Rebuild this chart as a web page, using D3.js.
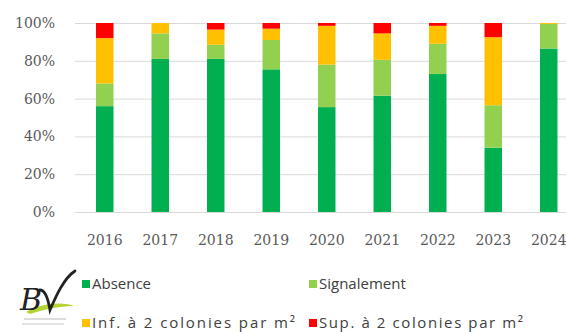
<!DOCTYPE html>
<html>
<head>
<meta charset="utf-8">
<script src="https://cdn.jsdelivr.net/npm/d3@7/dist/d3.min.js"></script>
<style>
  html, body { margin: 0; padding: 0; background: #fff; }
  svg { display: block; }
</style>
</head>
<body>
<svg id="chart" width="566" height="332"></svg>
<script>
// Share of monitored sites per infestation class, by year (percent)
const years = ["2016", "2017", "2018", "2019", "2020", "2021", "2022", "2023", "2024"];
const absence     = [56, 81, 81, 75.5, 55.5, 61.5, 73, 34, 86.5];
const signalement = [12, 13.5, 7.5, 15.5, 22.5, 19, 16, 22.5, 13];
const infDeux     = [24, 5.5, 8, 6, 20.5, 14, 9.5, 36, 0.5];
const supDeux     = [8, 0, 3.5, 3, 1.5, 5.5, 1.5, 7.5, 0];

const seriesNames = ["Absence", "Signalement", "Inf. à 2 colonies par m²", "Sup. à 2 colonies par m²"];
const seriesColors = ["#00B050", "#92D050", "#FFC000", "#FF0000"];
const yTicks = [0, 20, 40, 60, 80, 100];

const rows = years.map((y, i) => ({
  year: y,
  s0: absence[i], s1: signalement[i], s2: infDeux[i], s3: supDeux[i]
}));
const keys = ["s0", "s1", "s2", "s3"];
const stacked = d3.stack().keys(keys)(rows);

const svg = d3.select("#chart");
const W = 566;
const plotLeft = 75;

const x = d3.scaleBand()
  .domain(years)
  .range([77, 576.5])
  .paddingInner(0.685)
  .paddingOuter(0.3425);

const y = d3.scaleLinear().domain([0, 100]).range([212, 23]);

// Horizontal gridlines and percentage labels
const yAxis = svg.append("g")
  .attr("transform", `translate(${plotLeft},0)`)
  .call(d3.axisLeft(y)
    .tickValues(yTicks)
    .tickFormat(d => d + "%")
    .tickSizeInner(-(W - plotLeft))
    .tickSizeOuter(0)
    .tickPadding(20));
yAxis.select(".domain").remove();
yAxis.selectAll(".tick line").attr("stroke", "#d9d9d9").attr("stroke-width", 1);
yAxis.selectAll(".tick text")
  .attr("fill", "#595959")
  .style("font-family", "'DejaVu Serif', serif")
  .style("font-size", "14px");

// Stacked bars
svg.append("g")
  .selectAll("g")
  .data(stacked)
  .join("g")
  .attr("fill", (d, i) => seriesColors[i])
  .selectAll("rect")
  .data(d => d)
  .join("rect")
  .attr("x", d => x(d.data.year))
  .attr("width", x.bandwidth())
  .attr("y", d => y(d[1]))
  .attr("height", d => y(d[0]) - y(d[1]));

// Year labels
const xAxis = svg.append("g")
  .attr("transform", "translate(0,212)")
  .call(d3.axisBottom(x).tickSize(0).tickPadding(23));
xAxis.select(".domain").remove();
xAxis.selectAll(".tick text")
  .attr("fill", "#595959")
  .style("font-family", "'DejaVu Serif', serif")
  .style("font-size", "14px");

// Legend (two columns, two rows); the second row is set a little wider
const legendPos = [
  { x: 82, y: 284, len: null }, { x: 309, y: 284, len: null },
  { x: 82, y: 323, len: 203 }, { x: 309, y: 323, len: 204 }
];
const legend = svg.append("g")
  .selectAll("g")
  .data(seriesNames)
  .join("g")
  .attr("transform", (d, i) => `translate(${legendPos[i].x},${legendPos[i].y})`);
legend.append("rect")
  .attr("x", 0).attr("y", -4)
  .attr("width", 8).attr("height", 8)
  .attr("fill", (d, i) => seriesColors[i]);
legend.append("text")
  .attr("x", 10).attr("y", 0)
  .attr("dy", "0.35em")
  .attr("fill", "#404040")
  .style("font-family", "'Open Sans', 'Liberation Sans', sans-serif")
  .style("font-size", "15px")
  .each(function (d, i) {
    if (legendPos[i].len) {
      d3.select(this)
        .attr("textLength", legendPos[i].len)
        .attr("lengthAdjust", "spacing");
    }
  })
  .text(d => d);

// Organisation logo: script initials over a green swoosh
const logo = svg.append("g").attr("transform", "translate(18,266)");
logo.append("path")
  .attr("d", "M8,46 C22,38 42,35 56,40 C46,40 30,42 12,48 Z")
  .attr("fill", "#b5d334");
logo.append("text")
  .attr("x", 2).attr("y", 44)
  .style("font-family", "'DejaVu Serif', serif")
  .style("font-style", "italic")
  .style("font-size", "30px")
  .attr("fill", "#222")
  .text("B");
logo.append("path")
  .attr("d", "M22,24 C27,24 30,32 32,44 C38,30 46,12 57,5")
  .attr("fill", "none")
  .attr("stroke", "#222")
  .attr("stroke-width", 2.8)
  .attr("stroke-linecap", "round");
logo.append("line")
  .attr("x1", 6).attr("x2", 48).attr("y1", 53).attr("y2", 53)
  .attr("stroke", "#bbb").attr("stroke-width", 1.2);
logo.append("line")
  .attr("x1", 4).attr("x2", 46).attr("y1", 58).attr("y2", 58)
  .attr("stroke", "#c8c8c8").attr("stroke-width", 1.2);
</script>
</body>
</html>
